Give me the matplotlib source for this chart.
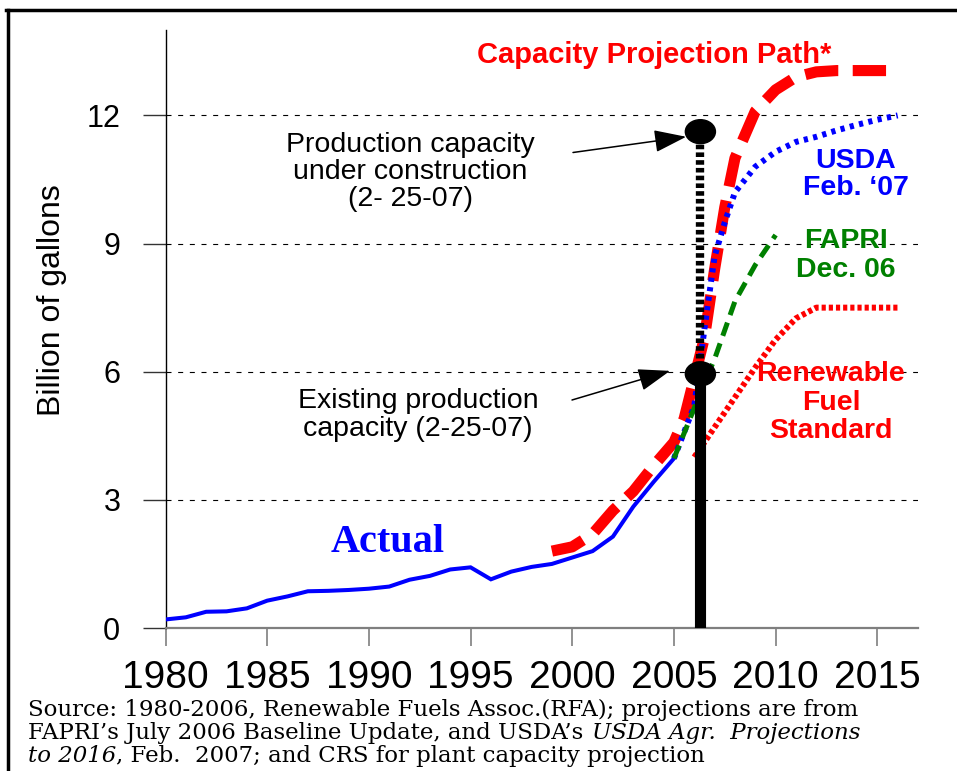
import matplotlib
matplotlib.use('Agg')
import matplotlib.pyplot as plt
from matplotlib.patches import Ellipse
from matplotlib.lines import Line2D

W, H = 957, 771
plt.rcParams['font.family'] = ['Liberation Sans', 'DejaVu Sans']

# ---------------- data ----------------
actual_years = list(range(1980, 2006))
actual_vals = [0.20, 0.25, 0.38, 0.39, 0.46, 0.64, 0.74, 0.86, 0.87, 0.89, 0.92, 0.97, 1.13,
               1.22, 1.37, 1.42, 1.14, 1.32, 1.43, 1.50, 1.65, 1.80, 2.14, 2.84, 3.42, 3.97]
cap_years = [1999, 2000, 2001, 2002, 2003, 2004, 2005, 2005.5, 2006, 2006.5, 2007, 2007.5,
             2008, 2009, 2010, 2011, 2012, 2013, 2015.5]
cap_vals = [1.80, 1.90, 2.20, 2.75, 3.20, 3.80, 4.35, 4.90, 5.85, 6.80, 8.40, 9.85,
            11.0, 12.1, 12.6, 12.9, 13.02, 13.05, 13.05]
usda_years = [2005, 2006, 2006.5, 2007, 2007.5, 2008, 2009, 2010, 2011, 2012, 2013, 2014, 2015, 2016]
usda_vals = [3.97, 5.2, 7.0, 8.7, 9.5, 10.2, 10.8, 11.15, 11.38, 11.5, 11.65, 11.78, 11.9, 12.0]
fapri_years = [2005, 2006, 2006.5, 2007, 2008, 2009, 2010]
fapri_vals = [3.97, 5.15, 5.75, 6.3, 7.65, 8.5, 9.2]
rfs_years = [2006, 2007, 2008, 2009, 2010, 2011, 2012, 2013, 2014, 2015, 2016]
rfs_vals = [4.0, 4.7, 5.4, 6.1, 6.75, 7.25, 7.5, 7.5, 7.5, 7.5, 7.5]
marker_year = 2006.3
existing_capacity = 5.95
construction_capacity = 11.62
x_ticks = [1980, 1985, 1990, 1995, 2000, 2005, 2010, 2015]
y_ticks = [0, 3, 6, 9, 12]

RED = '#FF0000'
BLUE = '#0000FF'
GREEN = '#008000'

fig = plt.figure(figsize=(W / 100, H / 100), dpi=100)
ax = fig.add_axes([165.5 / W, 1 - 628 / H, (918 - 165.5) / W, (628 - 30) / H])
ax.set_xlim(1980, 2017)
ax.set_ylim(0, 14)

for s in ('top', 'right'):
    ax.spines[s].set_visible(False)
ax.spines['left'].set_color('black')
ax.spines['left'].set_linewidth(1.0)
ax.spines['bottom'].set_color('#7f7f7f')
ax.spines['bottom'].set_linewidth(1.6)

ax.set_xticks(x_ticks)
ax.set_xticklabels([str(v) for v in x_ticks])
ax.set_yticks(y_ticks)
ax.set_yticklabels([str(v) for v in y_ticks])
ax.tick_params(axis='x', direction='out', length=13, width=1.2, color='#7f7f7f',
               labelsize=28, pad=10)
ax.tick_params(axis='y', direction='out', length=16.5, width=1.0, color='#333333',
               labelsize=22, pad=16)

for v in y_ticks:
    if v > 0:
        ax.axhline(v, color='black', lw=0.8, linestyle=(0, (4.5, 6)), zorder=1)

# lines
ax.plot(cap_years, cap_vals, color=RED, lw=8, linestyle=(0, (3.0, 1.3)),
        solid_capstyle='butt', dash_capstyle='butt', zorder=3)
ax.plot(actual_years, actual_vals, color=BLUE, lw=2.9, zorder=4, solid_joinstyle='miter')
ax.plot(usda_years, usda_vals, color=BLUE, lw=4.3, linestyle=(0, (0.7, 0.9)),
        dash_capstyle='butt', zorder=4)
ax.plot(fapri_years, fapri_vals, color=GREEN, lw=3.6, linestyle=(0, (2.8, 1.6)),
        dash_capstyle='butt', zorder=4)
ax.plot(rfs_years, rfs_vals, color=RED, lw=4.3, linestyle=(0, (0.7, 0.5)),
        dash_capstyle='butt', zorder=4)

# capacity markers
ax.plot([marker_year, marker_year], [0, existing_capacity], color='black', lw=8,
        solid_capstyle='butt', zorder=5)
ax.plot([marker_year, marker_year], [existing_capacity, construction_capacity], color='black',
        lw=6, linestyle=(0, (0.55, 0.38)), dash_capstyle='butt', zorder=5)
for v in (existing_capacity, construction_capacity):
    ax.add_patch(Ellipse((marker_year, v), width=1.48, height=0.56, color='black', zorder=6))

# arrows
def fpx(x, y):
    return (x, H - y)

ax.annotate('', xy=(2005.6, 11.5), xycoords='data', xytext=fpx(573, 152.5),
            textcoords='figure pixels',
            arrowprops=dict(arrowstyle='-|>,head_length=1.0,head_width=0.35', mutation_scale=20,
                            lw=1.1, color='black', shrinkA=0, shrinkB=0), zorder=7)
ax.annotate('', xy=(2004.81, 6.02), xycoords='data', xytext=fpx(572, 400),
            textcoords='figure pixels',
            arrowprops=dict(arrowstyle='-|>,head_length=1.0,head_width=0.35', mutation_scale=20,
                            lw=1.1, color='black', shrinkA=0, shrinkB=0), zorder=7)

# ---------------- texts ----------------
def ftext(x, y, s, **kw):
    kw.setdefault('va', 'baseline')
    return fig.text(x / W, 1 - y / H, s, **kw)

ftext(52, 300, 'Billion of gallons', rotation=90, ha='center', va='center', fontsize=23)

ftext(654, 63, 'Capacity Projection Path*', ha='center', color=RED, fontsize=21,
      fontweight='bold')

LAB = 20.5
for yy, s in zip([152, 179, 206], ['Production capacity', 'under construction', '(2- 25-07)']):
    ftext(410, yy, s, ha='center', fontsize=LAB)
for yy, s in zip([408, 436], ['Existing production', 'capacity (2-25-07)']):
    ftext(418, yy, s, ha='center', fontsize=LAB)

for yy, s in zip([168, 195], ['USDA', 'Feb. \u201807']):
    ftext(856, yy, s, ha='center', color=BLUE, fontsize=LAB, fontweight='bold')
for yy, s in zip([248, 277], ['FAPRI', 'Dec. 06']):
    ftext(846, yy, s, ha='center', color=GREEN, fontsize=LAB, fontweight='bold')
for yy, s in zip([381, 410, 438], ['Renewable', 'Fuel', 'Standard']):
    ftext(831, yy, s, ha='center', color=RED, fontsize=LAB, fontweight='bold')

ftext(388, 552, 'Actual', ha='center', color=BLUE, fontsize=29, fontweight='bold',
      family=['Liberation Serif', 'DejaVu Serif'])

# source note with mixed italics
renderer = fig.canvas.get_renderer()
SERIF = ['DejaVu Serif']
SRC_FS = 16.5

def seq(x, y, pieces):
    for s, style, gap in pieces:
        t = ftext(x, y, s, ha='left', fontsize=SRC_FS, family=SERIF, fontstyle=style)
        bb = t.get_window_extent(renderer=renderer)
        x += bb.width + gap

seq(28, 716, [('Source: 1980-2006, Renewable Fuels Assoc.(RFA); projections are from', 'normal', 0)])
seq(28, 739, [('FAPRI\u2019s July 2006 Baseline Update, and USDA\u2019s', 'normal', 9),
              ('USDA Agr.  Projections', 'italic', 0)])
seq(28, 762, [('to 2016', 'italic', 0),
              (', Feb.  2007; and CRS for plant capacity projection', 'normal', 0)])

# frame border
fig.add_artist(Line2D([6 / W, 1.0], [1 - 10 / H, 1 - 10 / H], color='black', lw=2.5,
                      transform=fig.transFigure))
fig.add_artist(Line2D([8 / W, 8 / W], [0.0, 1 - 10 / H], color='black', lw=2.5,
                      transform=fig.transFigure))

fig.savefig('out.png', dpi=100)
